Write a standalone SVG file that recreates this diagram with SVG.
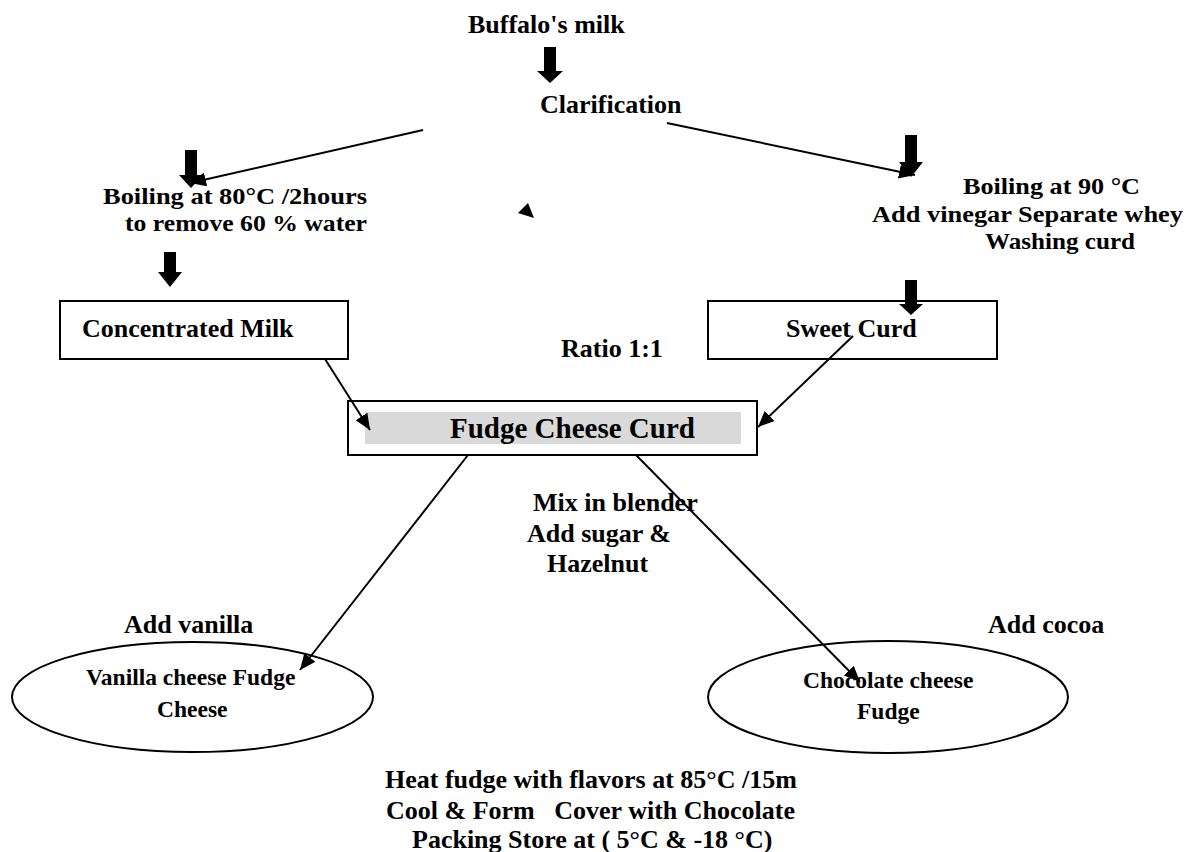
<svg xmlns="http://www.w3.org/2000/svg" width="1189" height="852" viewBox="0 0 1189 852">
<style>
text{font-family:"Liberation Serif","Times New Roman",serif;font-weight:bold;fill:#000;font-size:26px}
.tight{font-size:24px}
.big{font-size:29px}
.sm{font-size:23.5px}
.box{fill:#fff;stroke:#000;stroke-width:2}
.fat{fill:#000}
.con{stroke:#000;stroke-width:2;fill:none;marker-end:url(#ah)}
</style>
<defs>
<marker id="ah" markerUnits="userSpaceOnUse" markerWidth="18" markerHeight="14" refX="16" refY="7" orient="auto">
<path d="M0,0 L16,7 L0,14 Z" fill="#000"/>
</marker>
</defs>
<rect width="1189" height="852" fill="#fff"/>
<g id="buffalo"><text x="468" y="33">Buffalo's milk</text></g>
<g id="clarification"><text x="540" y="113">Clarification</text></g>
<g id="boil80"><text class="tight" x="103" y="204" textLength="264" lengthAdjust="spacingAndGlyphs">Boiling at 80°C /2hours</text><text class="tight" x="125" y="231" textLength="242" lengthAdjust="spacingAndGlyphs">to remove 60 % water</text></g>
<g id="boil90"><text class="tight" x="963" y="194" textLength="177" lengthAdjust="spacingAndGlyphs">Boiling at 90 °C</text><text class="tight" x="872" y="222" textLength="311" lengthAdjust="spacingAndGlyphs">Add vinegar Separate whey</text><text class="tight" x="985" y="249" textLength="150" lengthAdjust="spacingAndGlyphs">Washing curd</text></g>
<g id="concentrated"><rect class="box" x="60" y="301" width="288" height="58"/><text x="82" y="337">Concentrated Milk</text></g>
<g id="sweetcurd"><rect class="box" x="708" y="301" width="289" height="58"/><text x="786" y="337">Sweet Curd</text></g>
<g id="ratio"><text x="561" y="357">Ratio 1:1</text></g>
<g id="fudgecurd"><rect class="box" x="348" y="401" width="409" height="54"/><rect x="365" y="412" width="376" height="32" fill="#d9d9d9"/><text class="big" x="450" y="438">Fudge Cheese Curd</text></g>
<g id="mix"><text x="533" y="511">Mix in blender</text><text x="527" y="542">Add sugar &amp;</text><text x="547" y="572">Hazelnut</text></g>
<g id="addvanilla"><text x="124" y="633">Add vanilla</text></g>
<g id="addcocoa"><text x="988" y="633">Add cocoa</text></g>
<g id="vanilla"><ellipse class="box" cx="192.5" cy="697" rx="180.5" ry="55"/><text class="sm" x="86" y="685">Vanilla cheese Fudge</text><text class="sm" x="157" y="717">Cheese</text></g>
<g id="chocolate"><ellipse class="box" cx="888" cy="697" rx="180" ry="56"/><text class="sm" x="803" y="688">Chocolate cheese</text><text class="sm" x="857" y="719">Fudge</text></g>
<g id="final"><text x="385" y="788">Heat fudge with flavors at 85°C /15m</text><text x="386" y="819" xml:space="preserve">Cool &amp; Form   Cover with Chocolate</text><text x="412" y="848">Packing Store at ( 5°C &amp; -18 °C)</text></g>
<g id="connectors">
<polygon class="fat" points="544,47 556,47 556,71 563,71 550,83 537,71 544,71"/>
<polygon class="fat" points="185,150 197,150 197,175 203,175 191,188 179,175 185,175"/>
<polygon class="fat" points="164,252 176,252 176,272 182,272 170,287 158,272 164,272"/>
<polygon class="fat" points="905,135 917,135 917,162 923,162 911,177 899,162 905,162"/>
<polygon class="fat" points="905,280 917,280 917,304 923,304 911,315 899,304 905,304"/>
<line class="con" x1="423" y1="130" x2="190" y2="183"/>
<line class="con" x1="667" y1="123" x2="915" y2="175"/>
<line class="con" x1="325" y1="359" x2="370" y2="430"/>
<line class="con" x1="853" y1="336" x2="758" y2="427"/>
<line class="con" x1="468" y1="455" x2="300" y2="670"/>
<line class="con" x1="636" y1="455" x2="860" y2="682"/>
<polygon class="fat" points="528,203 534,218 518,213"/>
</g>
</svg>
